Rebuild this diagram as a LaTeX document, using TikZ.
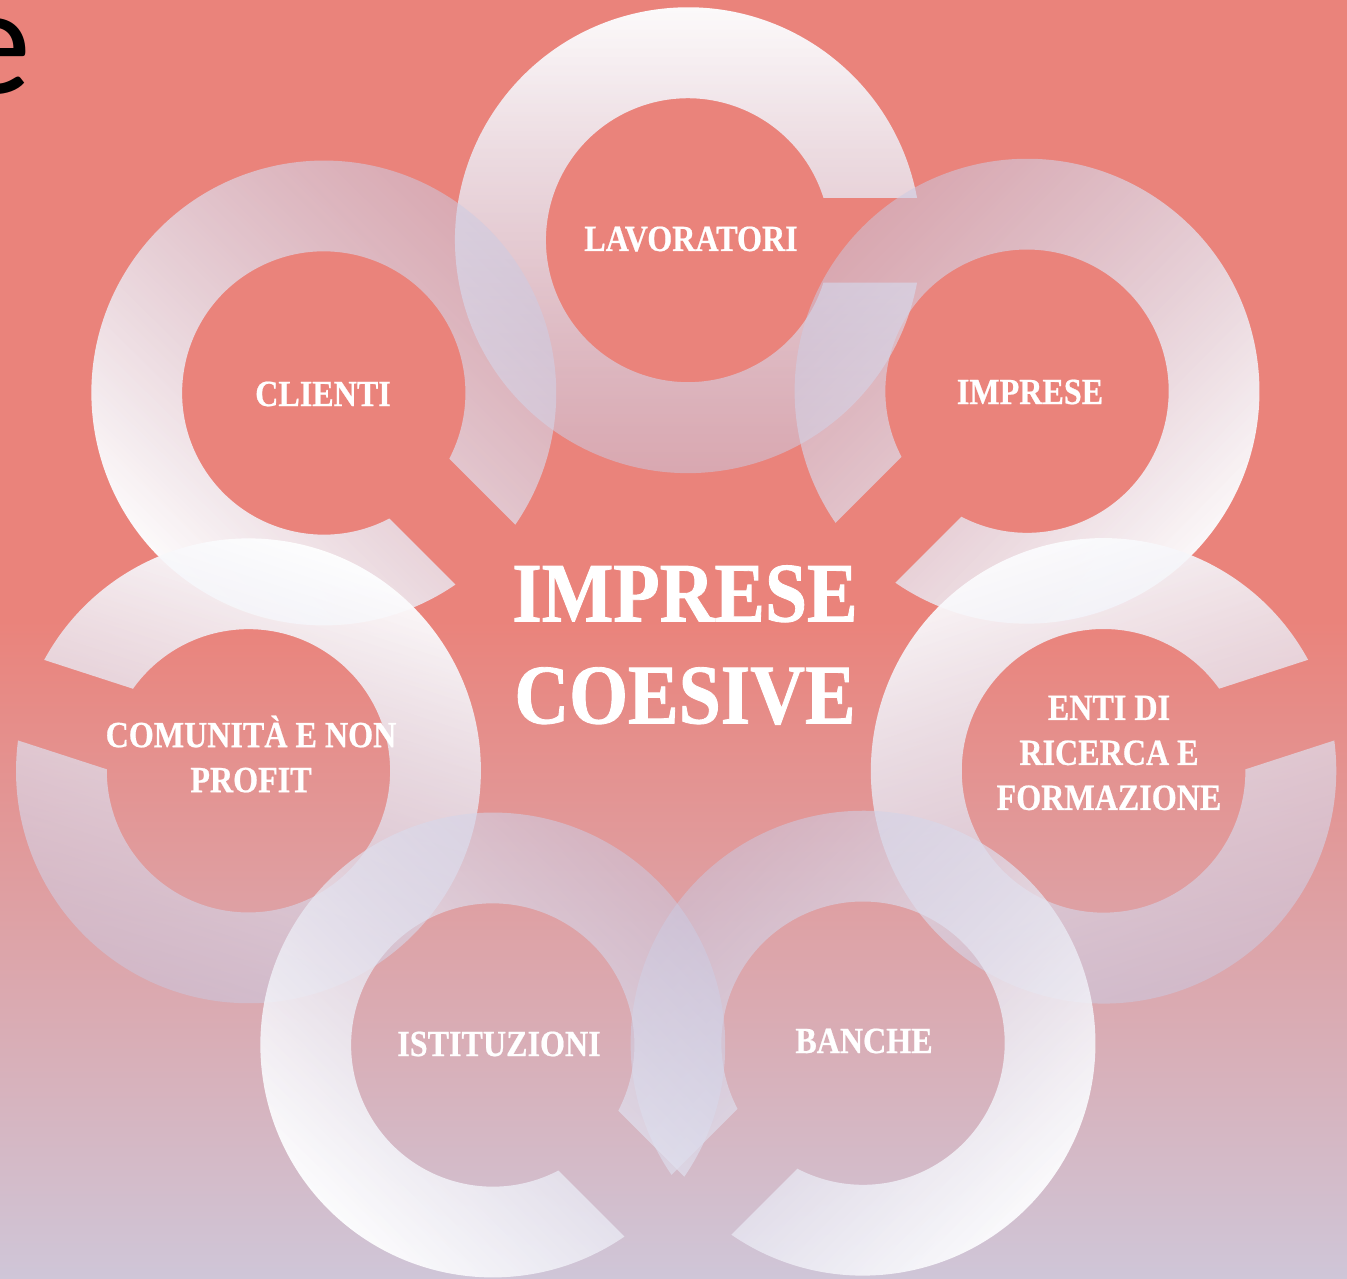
\documentclass[tikz,border=0pt]{standalone}
\usepackage{fontspec}
\usetikzlibrary{fadings}

\newfontfamily\actorfont{Liberation Serif}[FakeStretch=0.87, BoldFeatures={FakeBold=0.6}]
\newfontfamily\corefont{Liberation Serif}[FakeStretch=0.895, BoldFeatures={FakeBold=1}]
\newfontfamily\slidefont{Carlito}

\definecolor{salmon}{RGB}{234,131,123}
\definecolor{bglav}{RGB}{207,198,216}
\definecolor{ringlav}{RGB}{200,200,225}

\tikzfading[name=ringfade, top color=transparent!0, bottom color=transparent!50]

% ring with a straight slot: x, y, slot angle, shading angle
\newcommand{\gapring}[4]{%
  \shade[ringarc, shading angle=#4, fading angle=#4, shift={(#1,#2)}]
    (#3+10.5:233) arc[start angle=#3+10.5, end angle=#3+349.5, radius=233]
    -- (#3-17.4:142) arc[start angle=#3+342.6, end angle=#3+17.4, radius=142] -- cycle;
}

\begin{document}
\begin{tikzpicture}[x=0.02cm, y=0.02cm,
    ringarc/.style={top color=white, bottom color=ringlav, path fading=ringfade, fit fading=true},
    actor/.style={font=\actorfont\bfseries\fontsize{21}{25.6}\selectfont, text=white, align=center, inner sep=0pt},
    core/.style={font=\corefont\bfseries\fontsize{48.2}{58}\selectfont, text=white, align=center, inner sep=0pt}]
\useasboundingbox (0,0) rectangle (1347,-1279);
\clip (0,0) rectangle (1347,-1279);

% background
\fill[salmon] (0,0) rectangle (1347,-1279);
\shade[top color=salmon, bottom color=bglav] (0,-620) rectangle (1347,-1279);

\node[font=\slidefont\fontsize{88}{92}\selectfont, anchor=base west, inner sep=0pt] (title) at (-46,-93) {e};

% rings
\gapring{688}{-240}{0}{0}
\gapring{1027}{-393}{-135}{-135}
\gapring{322}{-393}{-45}{135}
\gapring{1104}{-770}{18}{18}
\gapring{250}{-770}{162}{-18}
\gapring{863}{-1045}{-135}{-135}
\gapring{491}{-1045}{-45}{135}

% labels
\node[actor] (lavoratori) at (691,-239) {LAVORATORI};
\node[actor] (imprese) at (1030,-392) {IMPRESE};
\node[actor] (clienti) at (323,-394) {CLIENTI};
\node[actor] (enti) at (1109,-753) {ENTI DI\\RICERCA E\\FORMAZIONE};
\node[actor] (comunita) at (251,-754) {COMUNITÀ E NON\\PROFIT};
\node[actor] (banche) at (864,-1041) {BANCHE};
\node[actor] (istituzioni) at (499,-1044) {ISTITUZIONI};

\node[core] (centro) at (685,-645) {IMPRESE\\COESIVE};
\end{tikzpicture}
\end{document}
